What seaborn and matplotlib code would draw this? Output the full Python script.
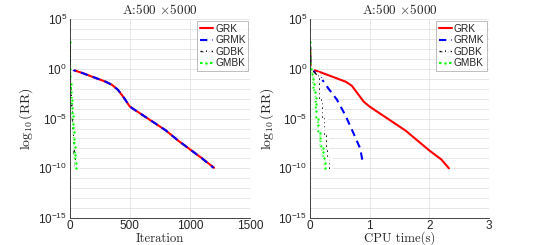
import numpy as np
import matplotlib
matplotlib.use('Agg')
import matplotlib.pyplot as plt
import seaborn as sns
from matplotlib.ticker import FixedLocator, LogFormatterMathtext, NullFormatter

# ---- data (log10 of relative residual) ----
# left panel: iterations
grk_iter = [0, 1, 100, 200, 300, 350, 400, 450, 500, 600, 700, 800, 900, 1000, 1100, 1200]
grk_iter_log = [2.6, 0.0, -0.4, -0.85, -1.3, -1.6, -2.1, -2.9, -3.8, -4.6, -5.4, -6.2, -7.2, -8.1, -9.0, -9.95]
grmk_iter = [0, 1, 100, 200, 300, 350, 400, 450, 500, 600, 700, 800, 900, 1000, 1100, 1195]
grmk_iter_log = [2.6, 0.0, -0.4, -0.85, -1.3, -1.6, -2.1, -2.9, -3.8, -4.6, -5.4, -6.2, -7.2, -8.1, -9.0, -9.95]
gdbk_iter = [0, 1, 5, 10, 15, 20, 25, 30, 35, 40, 44]
gdbk_iter_log = [2.6, 0.0, -1.0, -2.1, -3.2, -4.3, -5.5, -6.7, -7.9, -9.1, -10.0]
gmbk_iter = [0, 1, 4, 8, 12, 16, 20, 24, 28, 32, 36, 40, 44, 48, 50]
gmbk_iter_log = [2.7, 0.0, -0.7, -1.5, -2.3, -3.1, -3.9, -4.7, -5.5, -6.3, -7.1, -7.9, -8.7, -9.5, -10.0]

# right panel: CPU time (s)
grk_time = [0, 0.01, 0.2, 0.4, 0.6, 0.7, 0.8, 0.9, 1.0, 1.2, 1.4, 1.6, 1.8, 2.0, 2.2, 2.33]
grk_time_log = [2.6, 0.0, -0.4, -0.85, -1.3, -1.7, -2.5, -3.3, -3.8, -4.6, -5.4, -6.2, -7.2, -8.2, -9.1, -10.0]
grmk_time = [0, 0.005, 0.03, 0.17, 0.31, 0.45, 0.59, 0.73, 0.84, 0.89]
grmk_time_log = [2.6, 0.0, -0.1, -0.8, -2.0, -3.1, -4.65, -6.5, -8.0, -9.6]
gdbk_time = [0, 0.005, 0.13,
             0.145, 0.147, 0.149, 0.151, 0.153,
             0.19, 0.192, 0.194, 0.196, 0.198,
             0.23, 0.232, 0.234, 0.236, 0.238,
             0.27, 0.272, 0.274, 0.276, 0.278,
             0.31, 0.313, 0.316, 0.318]
gdbk_time_log = [2.6, 0.0, -0.7,
                 -1.0, -1.5, -2.0, -2.5, -2.9,
                 -3.1, -3.5, -3.9, -4.4, -4.8,
                 -5.0, -5.4, -5.8, -6.2, -6.6,
                 -6.8, -7.3, -7.8, -8.3, -8.8,
                 -9.0, -9.3, -9.6, -10.0]
gmbk_time = [0, 0.01, 0.04,
             0.055, 0.058, 0.06,
             0.09, 0.093, 0.096, 0.098, 0.10,
             0.13, 0.133, 0.136,
             0.17, 0.173, 0.176,
             0.21, 0.213, 0.216,
             0.24, 0.244, 0.248]
gmbk_time_log = [2.7, 0.0, -0.5,
                 -1.0, -1.5, -2.1,
                 -2.3, -2.9, -3.5, -4.2, -4.8,
                 -5.0, -5.6, -6.2,
                 -6.4, -7.0, -7.8,
                 -8.0, -8.4, -8.8,
                 -9.0, -9.5, -10.0]

methods = ['GRK', 'GRMK', 'GDBK', 'GMBK']
title = 'A:500 $\\times$5000'

sns.set_style('white')
plt.rcParams['font.family'] = ['Liberation Sans', 'DejaVu Sans']
plt.rcParams['mathtext.fontset'] = 'cm'
plt.rcParams['axes.unicode_minus'] = False

styles = {
    'GRK': dict(color=(1, 0, 0), linestyle='-', lw=1.5),
    'GRMK': dict(color=(0, 0, 1), linestyle=(0, (3.5, 2.5)), lw=1.5),
    'GDBK': dict(color='k', linestyle='-.', lw=1.0, marker='*', markersize=5.5, markeredgewidth=1.0),
    'GMBK': dict(color=(0, 1, 0), linestyle=(0, (1.2, 1.2)), lw=1.5, marker='.', markersize=5),
}

fig = plt.figure(figsize=(5.45, 2.45), dpi=100)
ax1 = fig.add_axes([0.128, 0.110, 0.331, 0.812])
ax2 = fig.add_axes([0.569, 0.110, 0.328, 0.812])

panels = [
    (ax1, [(grk_iter, grk_iter_log), (grmk_iter, grmk_iter_log),
           (gdbk_iter, gdbk_iter_log), (gmbk_iter, gmbk_iter_log)],
     'Iteration', (0, 1500), [0, 500, 1000, 1500]),
    (ax2, [(grk_time, grk_time_log), (grmk_time, grmk_time_log),
           (gdbk_time, gdbk_time_log), (gmbk_time, gmbk_time_log)],
     'CPU time(s)', (0, 3), [0, 1, 2, 3]),
]

serif = dict(family='cmr10', color='#262626')

for ax, series, xlab, xlim, xticks in panels:
    for name, (xs, ls) in zip(methods, series):
        sns.lineplot(x=xs, y=10.0 ** np.array(ls), ax=ax, sort=False, estimator=None,
                     label=name, **styles[name])
    ax.set_yscale('log')
    ax.set_ylim(1e-15, 1e5)
    ax.set_xlim(*xlim)
    ax.set_xticks(xticks)
    ax.yaxis.set_major_locator(FixedLocator([1e-15, 1e-10, 1e-5, 1e0, 1e5]))
    ax.yaxis.set_major_formatter(LogFormatterMathtext())
    ax.yaxis.set_minor_locator(FixedLocator(10.0 ** np.arange(-15, 6)))
    ax.yaxis.set_minor_formatter(NullFormatter())
    ax.grid(True, axis='x', which='major', color='#e3e3e3', lw=0.6)
    ax.grid(True, axis='y', which='both', color='#e3e3e3', lw=0.6)
    ax.set_axisbelow(True)
    for side in ['top', 'right']:
        ax.spines[side].set_visible(False)
    for side in ['left', 'bottom']:
        ax.spines[side].set_color('#262626')
        ax.spines[side].set_linewidth(0.6)
    ax.tick_params(axis='both', which='major', direction='in', length=3, width=0.5,
                   labelsize=8.5, colors='#262626', pad=2)
    ax.tick_params(axis='x', which='major', pad=1.5)
    ax.tick_params(axis='y', which='minor', direction='in', length=1.5, width=0.4, colors='#262626')
    ax.set_title(title, fontsize=9.5, pad=4, **serif)
    ax.set_xlabel(xlab, fontsize=9.2, va='baseline', **serif)
    ax.xaxis.set_label_coords(0.5, -0.118)
    ax.set_ylabel(r'$\log_{10}(\mathrm{RR})$', fontsize=10, labelpad=2, color='#262626')
    leg = ax.legend(loc='upper right', fontsize=7.3, frameon=True, fancybox=False,
                    handlelength=1.3, handletextpad=0.2, borderpad=0.25, labelspacing=0.15,
                    borderaxespad=0.2)
    leg.get_frame().set_edgecolor('#a0a0a0')
    leg.get_frame().set_linewidth(0.6)

fig.savefig('out.png', dpi=100)
